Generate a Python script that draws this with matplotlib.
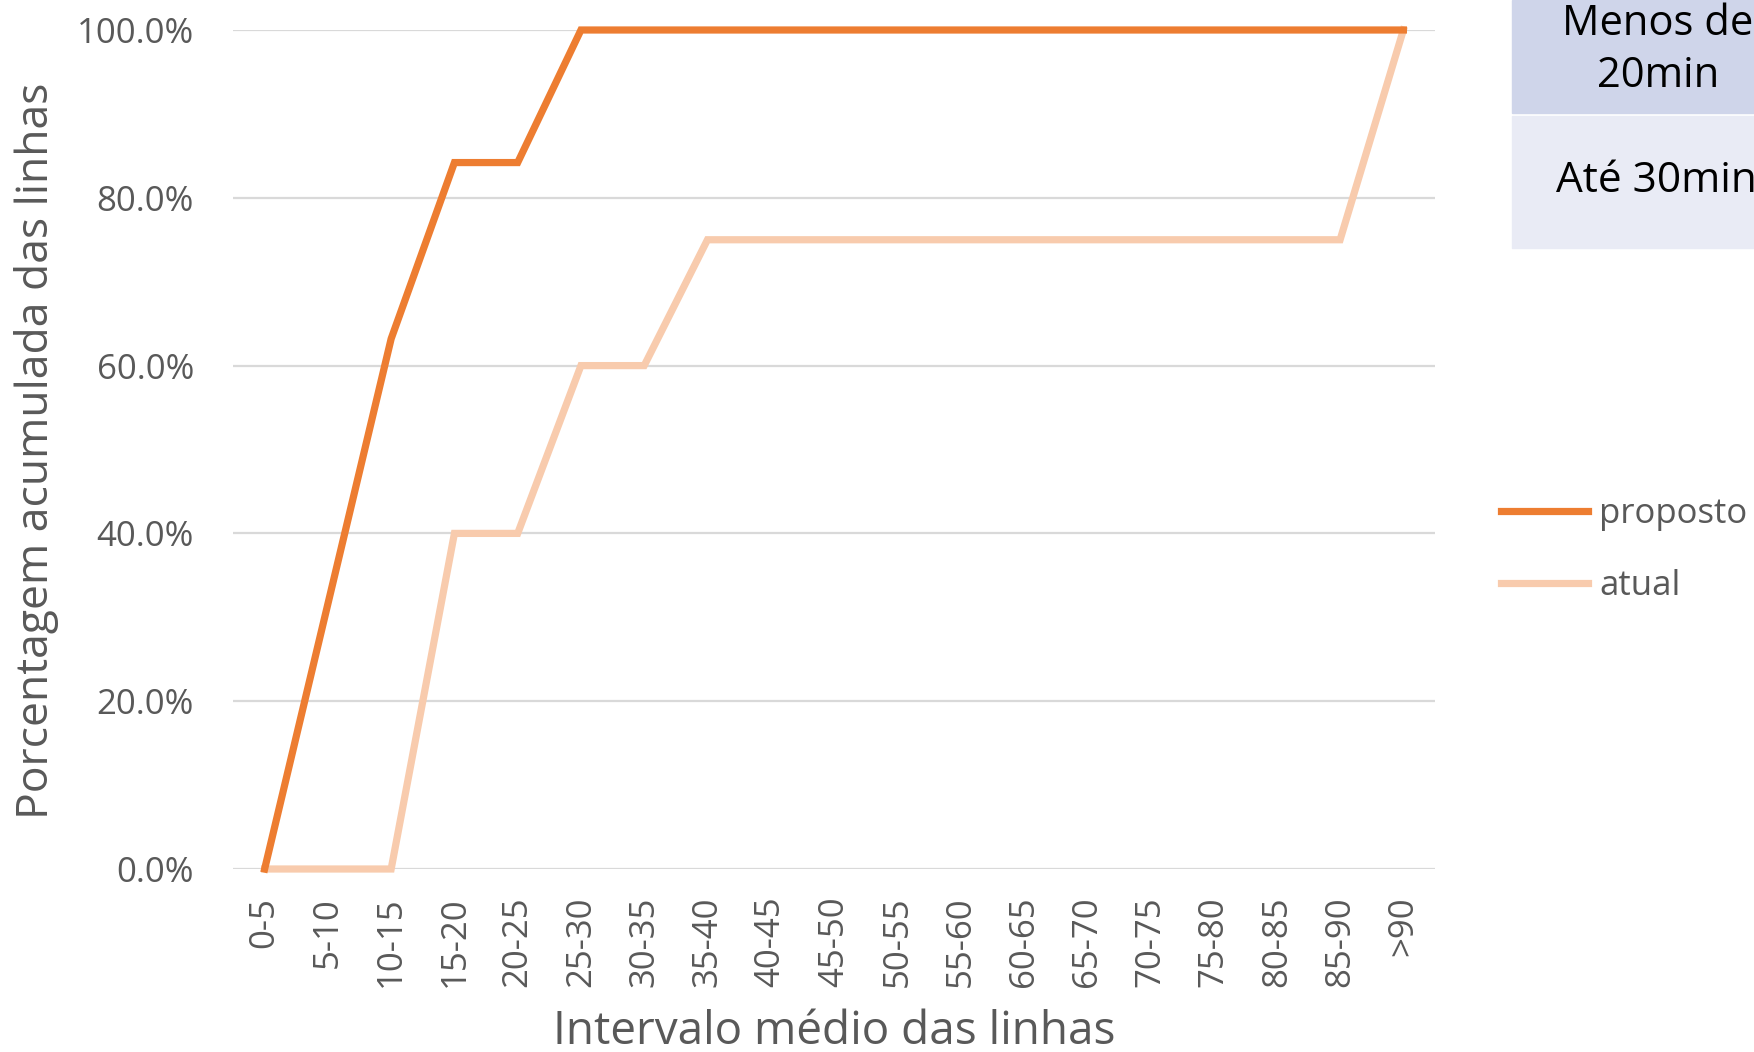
import matplotlib
matplotlib.use("Agg")
import matplotlib.pyplot as plt
from matplotlib.patches import Rectangle
from matplotlib.ticker import PercentFormatter

categories = ["0-5", "5-10", "10-15", "15-20", "20-25", "25-30", "30-35", "35-40",
              "40-45", "45-50", "50-55", "55-60", "60-65", "65-70", "70-75",
              "75-80", "80-85", "85-90", ">90"]
proposto = [0.0, 31.6, 63.2, 84.2, 84.2, 100, 100, 100, 100, 100, 100, 100,
            100, 100, 100, 100, 100, 100, 100]
atual = [0.0, 0.0, 0.0, 40, 40, 60, 60, 75, 75, 75, 75, 75, 75, 75, 75,
         75, 75, 75, 100]
yticks = [0, 20, 40, 60, 80, 100]
series_names = ["proposto", "atual"]
table_texts = ["Menos de\n20min", "Até 30min"]

plt.rcParams['font.family'] = ['Open Sans', 'DejaVu Sans']
W, H = 1754, 1052
fig = plt.figure(figsize=(W / 100, H / 100), dpi=100)
ax = fig.add_axes([233 / W, 1 - 869 / H, (1435 - 233) / W, (869 - 30) / H])

x = list(range(len(categories)))
ax.plot(x, proposto, color="#ED7D31", lw=5.2, label=series_names[0],
        solid_joinstyle="miter", clip_on=False, zorder=3)
ax.plot(x, atual, color="#F8CBAD", lw=5.2, label=series_names[1],
        solid_joinstyle="miter", clip_on=False, zorder=2)

ax.set_xlim(-0.5, len(categories) - 0.5)
ax.set_ylim(0, 100)
ax.set_yticks(yticks)
ax.yaxis.set_major_formatter(PercentFormatter(decimals=1))
ax.set_xticks(x)
ax.set_xticklabels(categories, rotation=90, va="top", ha="center")
for s in ax.spines.values():
    s.set_visible(False)
ax.grid(axis="y", color="#D9D9D9", lw=1.6)
ax.set_axisbelow(True)
ax.tick_params(length=0, labelsize=25, colors="#595959")
ax.tick_params(axis="y", pad=28)
ax.tick_params(axis="x", pad=20)

fig.text(37 / W, 1 - 451 / H, "Porcentagem acumulada das linhas", rotation=90,
         ha="center", va="center", fontsize=32, color="#595959")
fig.text(834 / W, 1 - 1044 / H, "Intervalo médio das linhas",
         ha="center", va="baseline", fontsize=33, color="#595959")

leg = fig.legend(loc="center left", bbox_to_anchor=(1501 / W, 1 - 550 / H),
                 frameon=False, fontsize=25, handlelength=2.5, handletextpad=0.32,
                 labelspacing=1.1, borderpad=0, borderaxespad=0)
for t in leg.get_texts():
    t.set_color("#595959")

# table in top-right corner
fig.patches.append(Rectangle((1512 / W, 1 - 113 / H), (W - 1512) / W, 113 / H,
                             transform=fig.transFigure, color="#CFD5EA", zorder=0))
fig.patches.append(Rectangle((1512 / W, 1 - 248 / H), (W - 1512) / W, (248 - 116) / H,
                             transform=fig.transFigure, color="#E9EBF5", zorder=0))
fig.text(1658 / W, 1 - 50 / H, table_texts[0], ha="center", va="center",
         fontsize=30, color="black", linespacing=1.32)
fig.text(1556 / W, 1 - 181 / H, table_texts[1], ha="left", va="center",
         fontsize=30.5, color="black")

fig.savefig("out.png", dpi=100)
